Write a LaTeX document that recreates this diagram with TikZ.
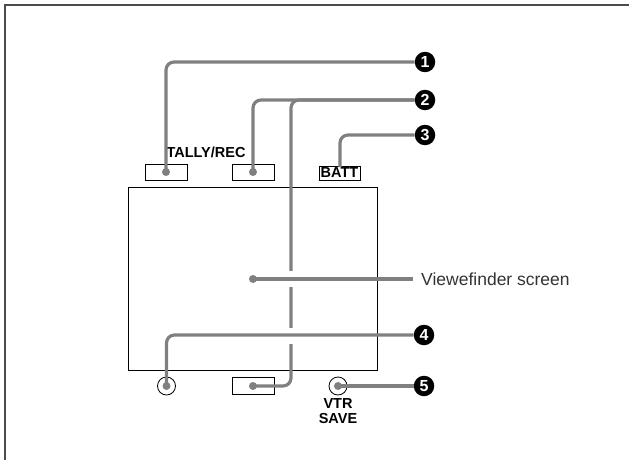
\documentclass[tikz,border=0pt]{standalone}
\usepackage{fontspec}
\setmainfont{Liberation Sans}
\begin{document}
\begin{tikzpicture}[x=1pt,y=-1pt,
  lead/.style={draw=black!50, line width=3.2pt, rounded corners=8pt},
  dotmark/.style={circle, fill=black!50, inner sep=0pt, minimum size=8pt},
  numball/.style={circle, fill=black, text=white, inner sep=0pt, minimum size=20.5pt, font=\bfseries\fontsize{16}{16}\selectfont},
  smallbox/.style={draw=black, line width=0.8pt, inner sep=0pt, minimum width=42pt, minimum height=16pt},
  lbl/.style={font=\bfseries\fontsize{14.5}{14.5}\selectfont, inner sep=0pt},
  jack/.style={circle, draw=black, line width=0.8pt, inner sep=0pt, minimum size=18pt}]
\useasboundingbox (0,0) rectangle (629,460);
% frame
\draw[black!70, line width=1.5pt] (5,460) -- (5,5) -- (629,5);
% screen
\node[draw=black, line width=1pt, minimum width=249pt, minimum height=183pt, inner sep=0pt] (screen) at (252.5,278.5) {};
% top boxes
\node[smallbox] (tally) at (166,172) {};
\node[smallbox] (rec) at (253,172) {};
\node[lbl] (tallylbl) at (206,152) {TALLY/REC};
\node[draw=black, line width=0.8pt, inner sep=0.5pt, minimum width=41pt, minimum height=14pt, font=\bfseries\fontsize{14.5}{14.5}\selectfont] (batt) at (339.5,173) {BATT};
% bottom
\node[jack] (jackL) at (166.5,386) {};
\node[smallbox, minimum height=17pt] (botbox) at (253,386) {};
\node[jack] (jackR) at (338,386) {};
\node[lbl, align=center, font=\bfseries\fontsize{14.5}{15.5}\selectfont] (vtr) at (338,411) {VTR\\SAVE};
% numbered circles
\node[numball] (n1) at (425,62) {1};
\node[numball] (n2) at (425,100) {2};
\node[numball] (n3) at (425,135) {3};
\node[numball] (n4) at (424,335) {4};
\node[numball] (n5) at (424,386) {5};
% dot marks
\coordinate (d1) at (tally.center);
\coordinate (d2) at (rec.center);
\coordinate (dv) at (253,279);
\coordinate (d4) at (jackL.center);
\coordinate (db) at (botbox.center);
\coordinate (d5) at (jackR.center);
\coordinate (d3) at (340,167);
\coordinate (vend) at (413,279);
% long vertical lead (drawn first)
\draw[lead] (db) -- (291,386) -- (291,100) -- (n2.west);
% gaps where leads cross
\draw[white, line width=6pt] (291,271) -- (291,287);
\draw[white, line width=6pt] (291,328) -- (291,344);
% leads
\draw[lead] (d1) |- (n1.west);
\draw[lead] (d2) |- (n2.west);
\draw[lead] (d3) |- (n3.west);
\draw[lead, rounded corners=0pt] (dv) -- (vend);
\draw[lead] (d4) |- (n4.west);
\draw[lead] (d5) -- (n5.west);
% dots on top
\foreach \p in {d1,d2,dv,d4,db,d5} \node[dotmark] at (\p) {};
\node[anchor=west, inner sep=0pt, text=black!80, font=\fontsize{17.5}{17.5}\selectfont] (vf) at (421,279) {Viewefinder screen};
\end{tikzpicture}
\end{document}
